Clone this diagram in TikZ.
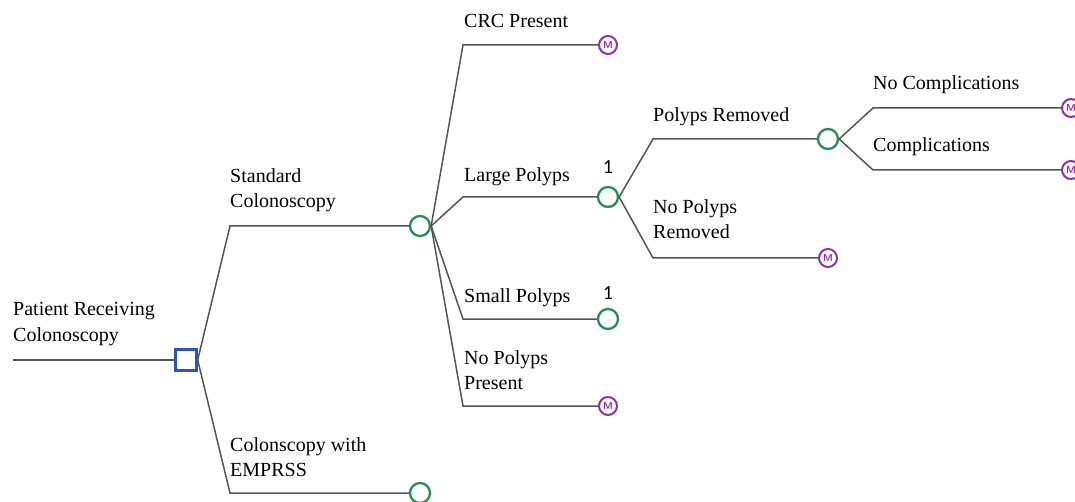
\documentclass[tikz,border=0pt]{standalone}
\usepackage{fontspec}
\setmainfont{Liberation Serif}
\newfontfamily\numfont{Carlito}
\definecolor{linegray}{RGB}{85,85,85}
\definecolor{decblue}{RGB}{45,85,185}
\definecolor{chgreen}{RGB}{40,140,85}
\definecolor{termpurple}{RGB}{140,50,170}
\begin{document}
\begin{tikzpicture}[x=1pt,y=-1pt,
  conn/.style={draw=linegray, line width=1.5pt},
  decision/.style={draw=decblue, line width=2.4pt, fill=white, rectangle, minimum size=21pt, inner sep=0pt},
  chance/.style={draw=chgreen, line width=2.3pt, fill=white, circle, minimum size=20pt, inner sep=0pt},
  term/.style={draw=termpurple, line width=2pt, fill=white, circle, minimum size=18pt, inner sep=0pt, text=termpurple, font=\sffamily\bfseries\fontsize{10}{10}\selectfont},
  lbl/.style={anchor=base west, align=left, inner sep=0pt, font=\fontsize{20}{25}\selectfont},
  num/.style={anchor=base, inner sep=0pt, font=\numfont\fontsize{20}{20}\selectfont}]
\useasboundingbox (0,0) rectangle (1075,502);
\clip (0,0) rectangle (1075,502);
% nodes
\coordinate (start) at (13,360);
\node[decision] (d) at (186,360) {};
\node[chance] (c1) at (420,226) {};
\node[chance] (c2) at (420,493) {};
\node[term] (t1) at (608,45) {M};
\node[chance] (c3) at (608,197) {};
\node[chance] (c4) at (608,319) {};
\node[term] (t2) at (608,406) {M};
\node[chance] (c5) at (828,139) {};
\node[term] (t3) at (828,258) {M};
\node[term] (t4) at (1071,108) {M};
\node[term] (t5) at (1071,170) {M};
% elbows
\coordinate (k1) at (230,226);
\coordinate (k2) at (230,493);
\coordinate (k3) at (463,45);
\coordinate (k4) at (463,197);
\coordinate (k5) at (463,319);
\coordinate (k6) at (463,406);
\coordinate (k7) at (653,139);
\coordinate (k8) at (653,258);
\coordinate (k9) at (873,108);
\coordinate (k10) at (873,170);
% connectors
\draw[conn] (start) -- (d.west);
\draw[conn] (d.east) -- (k1) -- (c1.west);
\draw[conn] (d.east) -- (k2) -- (c2.west);
\draw[conn] (c1.east) -- (k3) -- (t1.west);
\draw[conn] (c1.east) -- (k4) -- (c3.west);
\draw[conn] (c1.east) -- (k5) -- (c4.west);
\draw[conn] (c1.east) -- (k6) -- (t2.west);
\draw[conn] (c3.east) -- (k7) -- (c5.west);
\draw[conn] (c3.east) -- (k8) -- (t3.west);
\draw[conn] (c5.east) -- (k9) -- (t4.west);
\draw[conn] (c5.east) -- (k10) -- (t5.west);
% labels (two-line labels anchored at last baseline)
\node[lbl] (l0) at (13,341) {Patient Receiving\\Colonoscopy};
\node[lbl] (l1) at (230,208) {Standard\\Colonoscopy};
\node[lbl] (l2) at (230,476) {Colonscopy with\\EMPRSS};
\node[lbl] (l3) at (464,28) {CRC Present};
\node[lbl] (l4) at (464,182) {Large Polyps};
\node[lbl] (l5) at (464,302) {Small Polyps};
\node[lbl] (l6) at (464,389) {No Polyps\\Present};
\node[lbl] (l7) at (653,122) {Polyps Removed};
\node[lbl] (l8) at (653,239) {No Polyps\\Removed};
\node[lbl] (l9) at (873,90) {No Complications};
\node[lbl] (l10) at (873,152) {Complications};
\node[num] (n1) at (608,174) {1};
\node[num] (n2) at (608,299) {1};
\end{tikzpicture}
\end{document}
